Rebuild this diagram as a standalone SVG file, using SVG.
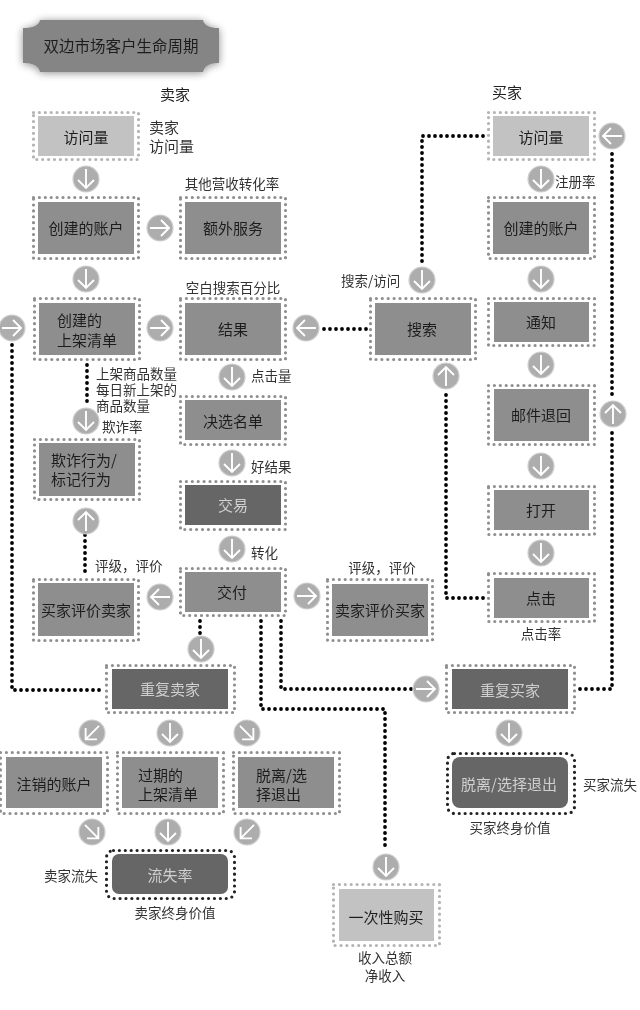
<svg xmlns="http://www.w3.org/2000/svg" width="640" height="1010" viewBox="0 0 640 1010">
<style>
text{font-family:"Noto Sans CJK SC","Noto Sans",sans-serif;dominant-baseline:central;transform:translateY(-1px)}
.n{font-size:15px;fill:#1f1f1f;text-anchor:middle}
.s{font-size:15px;fill:#1f1f1f;text-anchor:start}
.w{font-size:15px;fill:#d0d0d0;text-anchor:middle}
.l{font-size:13.5px;fill:#333;text-anchor:middle}
.ls{font-size:13.5px;fill:#333;text-anchor:start}
.h{font-size:15px;fill:#222;text-anchor:middle}
.lt{fill:#c2c2c2}.md{fill:#8e8e8e}.dk{fill:#666}
.o{fill:none;stroke:#8f8f8f;stroke-width:3.2;stroke-linecap:round;stroke-dasharray:0 5.9}
.ol{stroke:#b4b4b4}
.od{fill:none;stroke:#222;stroke-width:3.2;stroke-linecap:round;stroke-dasharray:0 5.9}
.c{fill:none;stroke:#000;stroke-width:3.8;stroke-linecap:round;stroke-dasharray:0 6}
</style>
<defs>
<filter id="soft" x="-5%" y="-5%" width="110%" height="110%"><feGaussianBlur stdDeviation="0.4"/></filter>
<filter id="shadow" x="-15%" y="-30%" width="130%" height="160%"><feGaussianBlur in="SourceAlpha" stdDeviation="4"/><feOffset dy="1"/><feComponentTransfer><feFuncA type="linear" slope="0.45"/></feComponentTransfer><feMerge><feMergeNode/><feMergeNode in="SourceGraphic"/></feMerge></filter>
<g id="arrow"><circle r="13" fill="#adadad" stroke="#cfcfcf" stroke-width="1.2"/><path d="M0-10V9M-8 1L0 9L8 1" fill="none" stroke="#fff" stroke-width="1.9"/></g>
</defs>
<rect width="640" height="1010" fill="#fff"/>
<g filter="url(#soft)">
<g id="title" filter="url(#shadow)">
<path d="M40 20H203Q205 28 219 28V63Q205 63 203 72H40Q38 63 23 63V28Q38 28 40 20Z" fill="#858585"/>
<text class="n" x="121" y="46" style="font-size:15.5px">双边市场客户生命周期</text>
</g>
<g id="connectors">
<path class="c" d="M483 136H422V263"/>
<path class="c" d="M612 154V395"/>
<path class="c" d="M612 433V689H578"/>
<path class="c" d="M366 329H322"/>
<path class="c" d="M446 395V598H486"/>
<path class="c" d="M87 365V405"/>
<path class="c" d="M12 345V690H102"/>
<path class="c" d="M85 535V577"/>
<path class="c" d="M200 621V634"/>
<path class="c" d="M261 621V709H385V849"/>
<path class="c" d="M281 621V689H413"/>
<use href="#arrow" transform="translate(86 179)"/>
<use href="#arrow" transform="translate(86 279)"/>
<use href="#arrow" transform="translate(160 228) rotate(-90)"/>
<use href="#arrow" transform="translate(160 328) rotate(-90)"/>
<use href="#arrow" transform="translate(12 328) rotate(-90)"/>
<use href="#arrow" transform="translate(306 328) rotate(90)"/>
<use href="#arrow" transform="translate(86 421)"/>
<use href="#arrow" transform="translate(232 377)"/>
<use href="#arrow" transform="translate(232 463)"/>
<use href="#arrow" transform="translate(232 549)"/>
<use href="#arrow" transform="translate(86 521) rotate(180)"/>
<use href="#arrow" transform="translate(160 597) rotate(90)"/>
<use href="#arrow" transform="translate(307 596) rotate(-90)"/>
<use href="#arrow" transform="translate(201 649)"/>
<use href="#arrow" transform="translate(92 733) rotate(45)"/>
<use href="#arrow" transform="translate(170 733)"/>
<use href="#arrow" transform="translate(247 733) rotate(-45)"/>
<use href="#arrow" transform="translate(92 832) rotate(-45)"/>
<use href="#arrow" transform="translate(168 832)"/>
<use href="#arrow" transform="translate(247 832) rotate(45)"/>
<use href="#arrow" transform="translate(612 136) rotate(90)"/>
<use href="#arrow" transform="translate(541 179)"/>
<use href="#arrow" transform="translate(541 279)"/>
<use href="#arrow" transform="translate(541 365)"/>
<use href="#arrow" transform="translate(613 414) rotate(180)"/>
<use href="#arrow" transform="translate(541 466)"/>
<use href="#arrow" transform="translate(541 553)"/>
<use href="#arrow" transform="translate(422 280)"/>
<use href="#arrow" transform="translate(446 376) rotate(180)"/>
<use href="#arrow" transform="translate(426 689) rotate(-90)"/>
<use href="#arrow" transform="translate(509 733)"/>
<use href="#arrow" transform="translate(386 867)"/>
</g>
<g id="seller-visits"><rect class="o ol" x="33.500" y="112.500" width="105" height="47"/><rect class="lt" x="38" y="116" width="96" height="40"/><text class="n" x="86" y="137">访问量</text></g>
<g id="seller-accounts"><rect class="o" x="33.500" y="197.500" width="105" height="61"/><rect class="md" x="38" y="202" width="96" height="52"/><text class="n" x="86" y="228">创建的账户</text></g>
<g id="extra-services"><rect class="o" x="180.500" y="197.500" width="105" height="61"/><rect class="md" x="185" y="202" width="96" height="52"/><text class="n" x="233" y="228">额外服务</text></g>
<g id="listings"><rect class="o" x="34.500" y="298.500" width="105" height="61"/><rect class="md" x="39" y="303" width="96" height="52"/><text class="s" x="57" y="320">创建的</text><text class="s" x="57" y="340">上架清单</text></g>
<g id="results"><rect class="o" x="180.500" y="298.500" width="105" height="61"/><rect class="md" x="185" y="303" width="96" height="52"/><text class="n" x="233" y="329">结果</text></g>
<g id="shortlist"><rect class="o" x="180.500" y="396.500" width="105" height="48"/><rect class="md" x="185" y="400" width="96" height="40"/><text class="n" x="233" y="421">决选名单</text></g>
<g id="transaction"><rect class="o" x="180.500" y="481.500" width="105" height="48"/><rect class="dk" x="185" y="485" width="96" height="40"/><text class="w" x="233" y="505">交易</text></g>
<g id="delivery"><rect class="o" x="180.500" y="568.500" width="105" height="47"/><rect class="md" x="185" y="572" width="96" height="40"/><text class="n" x="232" y="592">交付</text></g>
<g id="fraud"><rect class="o" x="34.500" y="439.500" width="105" height="60"/><rect class="md" x="39" y="443" width="96" height="53"/><text class="s" x="51" y="460">欺诈行为/</text><text class="s" x="51" y="479">标记行为</text></g>
<g id="buyer-rates-seller"><rect class="o" x="33.500" y="579.500" width="105" height="61"/><rect class="md" x="38" y="583" width="96" height="53"/><text class="n" x="86" y="610">买家评价卖家</text></g>
<g id="repeat-seller"><rect class="o" x="106.500" y="665.500" width="128" height="47"/><rect class="dk" x="112" y="669" width="116" height="40"/><text class="w" x="170" y="689">重复卖家</text></g>
<g id="closed-accounts"><rect class="o" x="0.500" y="752.500" width="107" height="61"/><rect class="md" x="6" y="757" width="96" height="51"/><text class="n" x="54" y="784">注销的账户</text></g>
<g id="expired-listings"><rect class="o" x="117.500" y="752.500" width="106" height="61"/><rect class="md" x="122" y="757" width="96" height="51"/><text class="s" x="138" y="775">过期的</text><text class="s" x="138" y="794">上架清单</text></g>
<g id="seller-optout"><rect class="o" x="233.500" y="752.500" width="106" height="61"/><rect class="md" x="238" y="757" width="96" height="51"/><text class="s" x="256" y="775">脱离/选</text><text class="s" x="256" y="794">择退出</text></g>
<g id="seller-churn"><rect class="od" x="106.500" y="850.500" width="128" height="48" rx="7"/><rect class="dk" x="112" y="854" width="116" height="40" rx="7"/><text class="w" x="170" y="875">流失率</text></g>
<g id="search"><rect class="o" x="370.500" y="298.500" width="105" height="61"/><rect class="md" x="375" y="303" width="96" height="52"/><text class="n" x="422" y="329">搜索</text></g>
<g id="buyer-visits"><rect class="o ol" x="488.500" y="112.500" width="106" height="47"/><rect class="lt" x="493" y="116" width="96" height="40"/><text class="n" x="541" y="137">访问量</text></g>
<g id="buyer-accounts"><rect class="o" x="488.500" y="197.500" width="106" height="61"/><rect class="md" x="493" y="202" width="96" height="52"/><text class="n" x="541" y="228">创建的账户</text></g>
<g id="notify"><rect class="o" x="488.500" y="298.500" width="106" height="47"/><rect class="md" x="494" y="302" width="95" height="40"/><text class="n" x="541" y="322">通知</text></g>
<g id="bounce"><rect class="o" x="488.500" y="385.500" width="106" height="59"/><rect class="md" x="494" y="389" width="95" height="52"/><text class="n" x="541" y="415">邮件退回</text></g>
<g id="open"><rect class="o" x="488.500" y="486.500" width="106" height="48"/><rect class="md" x="494" y="490" width="95" height="40"/><text class="n" x="541" y="510">打开</text></g>
<g id="click"><rect class="o" x="488.500" y="573.500" width="106" height="48"/><rect class="md" x="494" y="578" width="95" height="40"/><text class="n" x="541" y="598">点击</text></g>
<g id="seller-rates-buyer"><rect class="o" x="327.500" y="579.500" width="105" height="61"/><rect class="md" x="332" y="584" width="96" height="52"/><text class="n" x="380" y="610">卖家评价买家</text></g>
<g id="repeat-buyer"><rect class="o" x="446.500" y="665.500" width="128" height="47"/><rect class="dk" x="452" y="669" width="116" height="40"/><text class="w" x="510" y="690">重复买家</text></g>
<g id="buyer-churn"><rect class="od" x="447.500" y="753.500" width="127" height="60" rx="7"/><rect class="dk" x="452" y="757" width="116" height="51" rx="8"/><text class="w" x="509" y="784">脱离/选择退出</text></g>
<g id="one-time"><rect class="o ol" x="333.500" y="884.500" width="106" height="61"/><rect class="lt" x="339" y="889" width="95" height="52"/><text class="n" x="386" y="917">一次性购买</text></g>
<g id="labels">
<text class="h" x="175" y="94">卖家</text>
<text class="h" x="507" y="92">买家</text>
<text class="ls" x="149" y="127" style="font-size:15px">卖家</text>
<text class="ls" x="149" y="146" style="font-size:15px">访问量</text>
<text class="l" x="232" y="184">其他营收转化率</text>
<text class="l" x="233" y="288">空白搜索百分比</text>
<text class="ls" x="96" y="374"><tspan x="96" y="374">上架商品数量</tspan><tspan x="96" y="390">每日新上架的</tspan><tspan x="96" y="406">商品数量</tspan></text>
<text class="ls" x="102" y="427">欺诈率</text>
<text class="ls" x="251" y="376">点击量</text>
<text class="ls" x="251" y="467">好结果</text>
<text class="ls" x="251" y="553">转化</text>
<text class="ls" x="95" y="566">评级，评价</text>
<text class="l" x="382" y="568">评级，评价</text>
<text class="ls" x="341" y="281">搜索/访问</text>
<text class="ls" x="555" y="182">注册率</text>
<text class="l" x="541" y="634">点击率</text>
<text class="l" x="71" y="876">卖家流失</text>
<text class="l" x="175" y="913">卖家终身价值</text>
<text class="l" x="610" y="785">买家流失</text>
<text class="l" x="510" y="828">买家终身价值</text>
<text class="l" x="385" y="958">收入总额</text>
<text class="l" x="385" y="976">净收入</text>
</g>
</g>
</svg>
